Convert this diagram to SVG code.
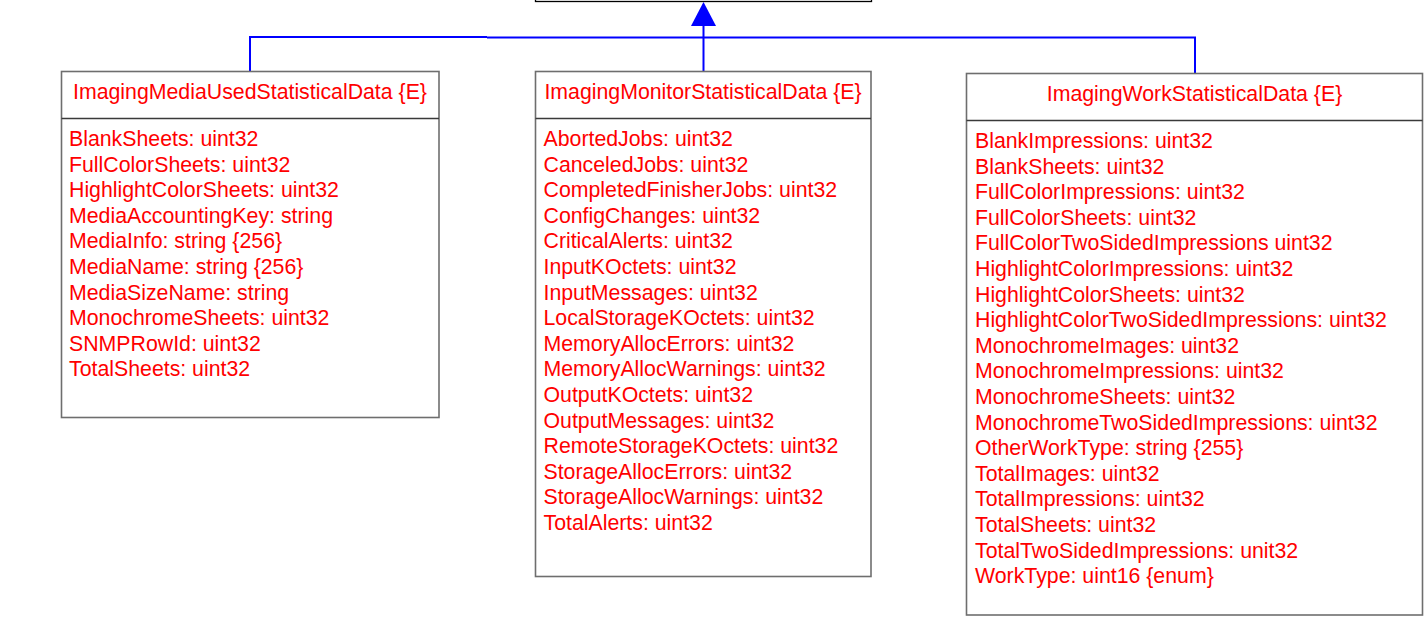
<svg xmlns="http://www.w3.org/2000/svg" width="1428" height="621" viewBox="0 0 1428 621">
<style>
.box{fill:#fff;stroke:#6e6e6e;stroke-width:1.6}
.div{stroke:#3a3a3a;stroke-width:1.3}
.t{font-family:"Liberation Sans",Arial,sans-serif;font-size:21.3px;fill:#ff0000}
.h{text-anchor:middle}
.conn{fill:none;stroke:#0000ff;stroke-width:2}
</style>
<rect width="1428" height="621" fill="#fff"/>
<g id="parent">
<rect x="535.5" y="-10" width="336" height="11.5" fill="#fff" stroke="#000" stroke-width="1.3"/>
</g>
<g id="connectors">
<path class="conn" d="M250,71 V37 H487"/>
<path class="conn" d="M1195,73 V37.5 H487"/>
<path class="conn" d="M703.5,71 V25"/>
<polygon points="703.5,2 691,26 716,26" fill="#0000ff"/>
</g>
<g id="ImagingMediaUsedStatisticalData">
<rect class="box" x="61.5" y="71.5" width="377.5" height="346"/>
<line class="div" x1="61.5" y1="118.5" x2="439" y2="118.5"/>
<text class="t h" x="250" y="99">ImagingMediaUsedStatisticalData {E}</text>
<text class="t" x="69" y="146">BlankSheets: uint32</text>
<text class="t" x="69" y="171.6">FullColorSheets: uint32</text>
<text class="t" x="69" y="197.2">HighlightColorSheets: uint32</text>
<text class="t" x="69" y="222.8">MediaAccountingKey: string</text>
<text class="t" x="69" y="248.4">MediaInfo: string {256}</text>
<text class="t" x="69" y="274">MediaName: string {256}</text>
<text class="t" x="69" y="299.6">MediaSizeName: string</text>
<text class="t" x="69" y="325.2">MonochromeSheets: uint32</text>
<text class="t" x="69" y="350.8">SNMPRowId: uint32</text>
<text class="t" x="69" y="376.4">TotalSheets: uint32</text>
</g>
<g id="ImagingMonitorStatisticalData">
<rect class="box" x="535.5" y="71.5" width="335.5" height="505"/>
<line class="div" x1="535.5" y1="118.5" x2="871" y2="118.5"/>
<text class="t h" x="703" y="99">ImagingMonitorStatisticalData {E}</text>
<text class="t" x="543.5" y="146">AbortedJobs: uint32</text>
<text class="t" x="543.5" y="171.6">CanceledJobs: uint32</text>
<text class="t" x="543.5" y="197.2">CompletedFinisherJobs: uint32</text>
<text class="t" x="543.5" y="222.8">ConfigChanges: uint32</text>
<text class="t" x="543.5" y="248.4">CriticalAlerts: uint32</text>
<text class="t" x="543.5" y="274">InputKOctets: uint32</text>
<text class="t" x="543.5" y="299.6">InputMessages: uint32</text>
<text class="t" x="543.5" y="325.2">LocalStorageKOctets: uint32</text>
<text class="t" x="543.5" y="350.8">MemoryAllocErrors: uint32</text>
<text class="t" x="543.5" y="376.4">MemoryAllocWarnings: uint32</text>
<text class="t" x="543.5" y="402">OutputKOctets: uint32</text>
<text class="t" x="543.5" y="427.6">OutputMessages: uint32</text>
<text class="t" x="543.5" y="453.2">RemoteStorageKOctets: uint32</text>
<text class="t" x="543.5" y="478.8">StorageAllocErrors: uint32</text>
<text class="t" x="543.5" y="504.4">StorageAllocWarnings: uint32</text>
<text class="t" x="543.5" y="530">TotalAlerts: uint32</text>
</g>
<g id="ImagingWorkStatisticalData">
<rect class="box" x="966.5" y="73.5" width="456" height="541.5"/>
<line class="div" x1="966.5" y1="120.5" x2="1422.5" y2="120.5"/>
<text class="t h" x="1194.5" y="101">ImagingWorkStatisticalData {E}</text>
<text class="t" x="975" y="148">BlankImpressions: uint32</text>
<text class="t" x="975" y="173.6">BlankSheets: uint32</text>
<text class="t" x="975" y="199.2">FullColorImpressions: uint32</text>
<text class="t" x="975" y="224.8">FullColorSheets: uint32</text>
<text class="t" x="975" y="250.4">FullColorTwoSidedImpressions uint32</text>
<text class="t" x="975" y="276">HighlightColorImpressions: uint32</text>
<text class="t" x="975" y="301.6">HighlightColorSheets: uint32</text>
<text class="t" x="975" y="327.2">HighlightColorTwoSidedImpressions: uint32</text>
<text class="t" x="975" y="352.8">MonochromeImages: uint32</text>
<text class="t" x="975" y="378.4">MonochromeImpressions: uint32</text>
<text class="t" x="975" y="404">MonochromeSheets: uint32</text>
<text class="t" x="975" y="429.6">MonochromeTwoSidedImpressions: uint32</text>
<text class="t" x="975" y="455.2">OtherWorkType: string {255}</text>
<text class="t" x="975" y="480.8">TotalImages: uint32</text>
<text class="t" x="975" y="506.4">TotalImpressions: uint32</text>
<text class="t" x="975" y="532">TotalSheets: uint32</text>
<text class="t" x="975" y="557.6">TotalTwoSidedImpressions: unit32</text>
<text class="t" x="975" y="583.2">WorkType: uint16 {enum}</text>
</g>
</svg>
